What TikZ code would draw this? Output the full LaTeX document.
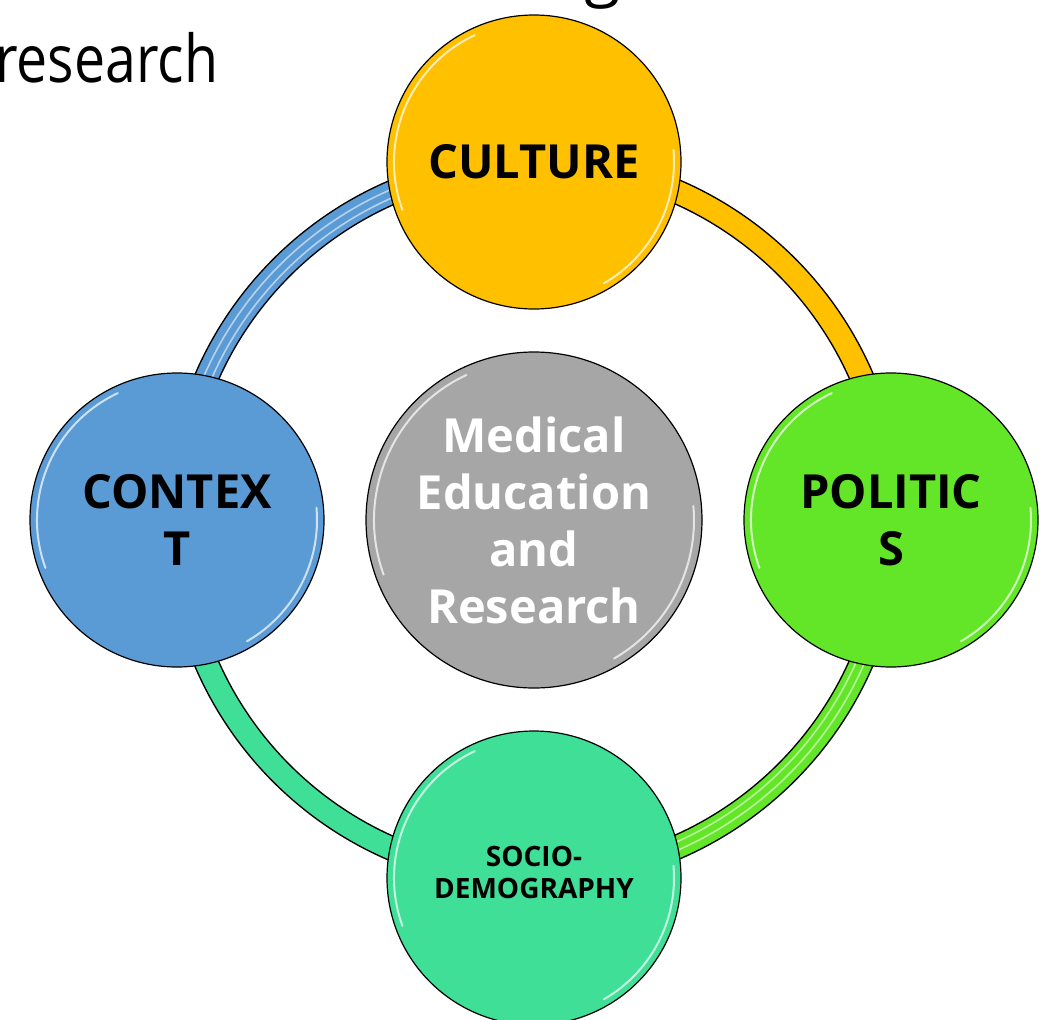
\documentclass[tikz,border=0pt]{standalone}
\usepackage{fontspec}
\setmainfont{Open Sans}
\definecolor{cultc}{HTML}{FFC000}
\definecolor{ctxc}{HTML}{5B9BD5}
\definecolor{polc}{HTML}{64E628}
\definecolor{socc}{HTML}{3FDF98}
\definecolor{hubc}{HTML}{A6A6A6}
\begin{document}
\begin{tikzpicture}[x=1pt,y=-1pt,
  bubble/.style={circle, draw=black, line width=1.2pt, minimum size=294pt, inner sep=0pt,
    font=\bfseries\fontsize{47}{57}\selectfont, align=center, text=black},
  hubnode/.style={bubble, minimum size=336pt, fill=hubc, text=white},
  ringout/.style={line width=25pt, draw=black},
  ringin/.style={line width=22pt},
  stripe/.style={line width=1.6pt, draw=white, opacity=0.55},
  gloss/.style={line width=2pt, draw=white, opacity=0.7, line cap=round},
  title/.style={inner sep=0pt, font=\fontsize{66}{66}\selectfont}]
\useasboundingbox (0,0) rectangle (1053,1020);
\clip (0,0) rectangle (1053,1020);
% centre positions
\coordinate (c0) at (534,520);
\node[hubnode] (hub) at (c0) {Medical\\Education\\and\\Research};
\coordinate (cc) at (534,162);
\coordinate (cx) at (177,520);
\coordinate (cp) at (891,520);
\coordinate (cs) at (534,878);
% ring
\draw[ringout] (cx) arc[start angle=180,end angle=270,radius=357];
\draw[ringout] (cc) arc[start angle=270,end angle=360,radius=357];
\draw[ringout] (cp) arc[start angle=0,end angle=90,radius=357];
\draw[ringout] (cs) arc[start angle=90,end angle=180,radius=357];
\draw[ringin, draw=ctxc] (cx) arc[start angle=180,end angle=270,radius=357];
\draw[ringin, draw=cultc] (cc) arc[start angle=270,end angle=360,radius=357];
\draw[ringin, draw=polc] (cp) arc[start angle=0,end angle=90,radius=357];
\draw[ringin, draw=socc] (cs) arc[start angle=90,end angle=180,radius=357];
\foreach \rr in {352,360}{
  \draw[stripe] (c0) ++(180:\rr) arc[start angle=180,end angle=270,radius=\rr];
  \draw[stripe] (c0) ++(0:\rr) arc[start angle=0,end angle=90,radius=\rr];
}
% outer bubbles
\node[bubble, fill=cultc] (cul) at (cc) {CULTURE};
\node[bubble, fill=ctxc] (ctx) at (cx) {CONTEX\\T};
\node[bubble, fill=polc] (pol) at (cp) {POLITIC\\S};
\node[bubble, fill=socc] (soc) at (cs) {};
\node[font=\bfseries\fontsize{28}{32}\selectfont, align=center, inner sep=0pt] (soct) at (534,872) {SOCIO-\\DEMOGRAPHY};
% gloss highlights
\foreach \n/\r in {cul/140,ctx/140,pol/140,soc/140,hub/160}{
  \draw[gloss] (\n.center) ++(-200:\r) arc[start angle=-200,end angle=-115,radius=\r];
  \draw[gloss] (\n.center) ++(-5:\r) arc[start angle=-5,end angle=60,radius=\r];
}
% partial title text
\node[title, anchor=base west] (t1) at (-5,82) {\scalebox{0.84}[1]{research}};
\node[title, anchor=base] (t2) at (603,-7) {g};
\end{tikzpicture}
\end{document}
